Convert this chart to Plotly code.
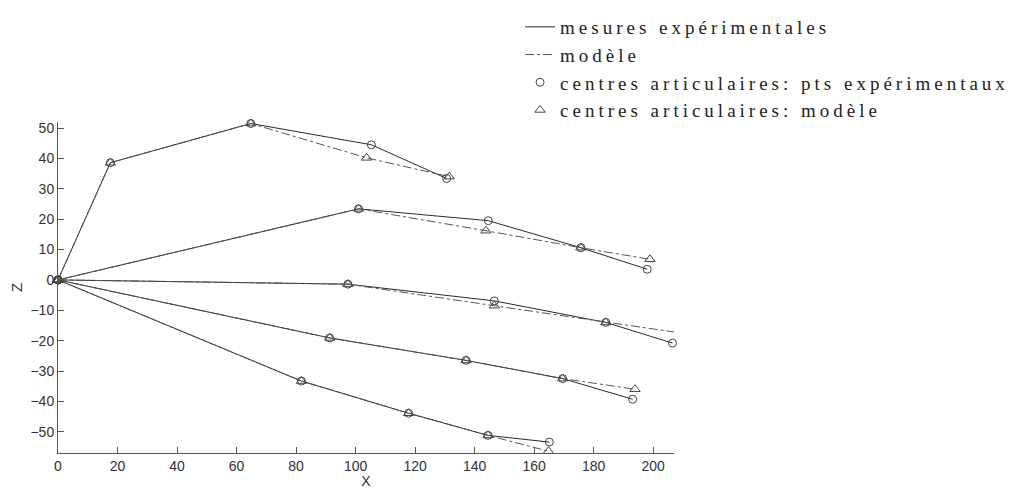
import plotly.graph_objects as go

# joint centres, experimental (exp) and model (mod), five chains from the origin
chain1_exp_x = [0, 17.6, 64.8, 105.3, 130.6]
chain1_exp_z = [0, 38.6, 51.5, 44.5, 33.4]
chain1_mod_x = [0, 17.6, 64.8, 103.7, 131.5]
chain1_mod_z = [0, 38.6, 51.5, 40.2, 34.0]

chain2_exp_x = [0, 101.0, 144.6, 175.7, 198.0]
chain2_exp_z = [0, 23.4, 19.5, 10.6, 3.5]
chain2_mod_x = [0, 101.0, 143.8, 175.7, 198.9]
chain2_mod_z = [0, 23.4, 16.2, 10.6, 6.8]

chain3_exp_x = [0, 97.4, 146.6, 184.1, 206.5]
chain3_exp_z = [0, -1.4, -6.9, -14.0, -20.8]
chain3_mod_x = [0, 97.4, 146.6, 184.1, 207.3]
chain3_mod_z = [0, -1.4, -8.5, -14.0, -17.2]

chain4_exp_x = [0, 91.3, 137.1, 169.6, 193.1]
chain4_exp_z = [0, -19.1, -26.5, -32.5, -39.3]
chain4_mod_x = [0, 91.3, 137.1, 169.6, 193.9]
chain4_mod_z = [0, -19.1, -26.5, -32.5, -36.0]

chain5_exp_x = [0, 81.8, 117.8, 144.5, 165.1]
chain5_exp_z = [0, -33.3, -43.9, -51.2, -53.4]
chain5_mod_x = [0, 81.8, 117.8, 144.5, 164.8]
chain5_mod_z = [0, -33.3, -43.9, -51.2, -56.4]

x_ticks = [0, 20, 40, 60, 80, 100, 120, 140, 160, 180, 200]
z_ticks = [-50, -40, -30, -20, -10, 0, 10, 20, 30, 40, 50]

chains = [
    (chain1_exp_x, chain1_exp_z, chain1_mod_x, chain1_mod_z),
    (chain2_exp_x, chain2_exp_z, chain2_mod_x, chain2_mod_z),
    (chain3_exp_x, chain3_exp_z, chain3_mod_x, chain3_mod_z),
    (chain4_exp_x, chain4_exp_z, chain4_mod_x, chain4_mod_z),
    (chain5_exp_x, chain5_exp_z, chain5_mod_x, chain5_mod_z),
]

def spaced(txt):
    # the original legend text is set quite loose
    return f'<span style="letter-spacing:4px">{txt}</span>'

fig = go.Figure()

# lines first so they sit in the legend's first two rows
for i, (ex, ez, mx, mz) in enumerate(chains):
    fig.add_trace(go.Scatter(
        x=ex, y=ez, mode="lines", name=spaced("mesures expérimentales"),
        legendgroup="exp", legendrank=1, showlegend=(i == 0),
        line=dict(color="#2a2a2a", width=1)))
    fig.add_trace(go.Scatter(
        x=mx, y=mz, mode="lines", name=spaced("modèle"),
        legendgroup="mod", legendrank=2, showlegend=(i == 0),
        line=dict(color="#555555", width=1, dash="dashdot")))

for i, (ex, ez, mx, mz) in enumerate(chains):
    fig.add_trace(go.Scatter(
        x=ex, y=ez, mode="markers", name=spaced("centres articulaires: pts expérimentaux"),
        legendgroup="exp_pts", legendrank=3, showlegend=(i == 0), cliponaxis=False,
        marker=dict(symbol="circle-open", size=8, color="#444444", line=dict(width=1))))
    fig.add_trace(go.Scatter(
        x=mx, y=mz, mode="markers", name=spaced("centres articulaires: modèle"),
        legendgroup="mod_pts", legendrank=4, showlegend=(i == 0), cliponaxis=False,
        marker=dict(symbol="triangle-up-open", size=9, color="#444444", line=dict(width=1))))

axis_common = dict(
    showgrid=False, zeroline=False, showline=True, linecolor="#555555", linewidth=1,
    ticks="inside", ticklen=6, tickcolor="#555555",
    tickfont=dict(family="Liberation Sans, Arial", size=14, color="#333333"),
)

# the page puts the figure 8px in from the top-left corner
fig.update_layout(
    width=1010, height=481,
    plot_bgcolor="white", paper_bgcolor="white",
    margin=dict(l=50, r=344, t=114, b=36, autoexpand=False),
    xaxis=dict(range=[0, 207], tickvals=x_ticks, title=dict(text="X", standoff=4,
               font=dict(family="Liberation Sans, Arial", size=14, color="#333333")),
               **axis_common),
    yaxis=dict(range=[-57, 52], tickvals=z_ticks, title=dict(text="Z", standoff=4,
               font=dict(family="Liberation Sans, Arial", size=15, color="#333333")),
               **axis_common),
    legend=dict(
        xref="container", yref="container", x=0.507, y=1.022, xanchor="left", yanchor="top",
        bgcolor="rgba(0,0,0,0)", tracegroupgap=0, itemwidth=30,
        font=dict(family="Liberation Serif, Times New Roman", size=19, color="#222222"),
    ),
    showlegend=True,
)

fig.write_html("out.html")
